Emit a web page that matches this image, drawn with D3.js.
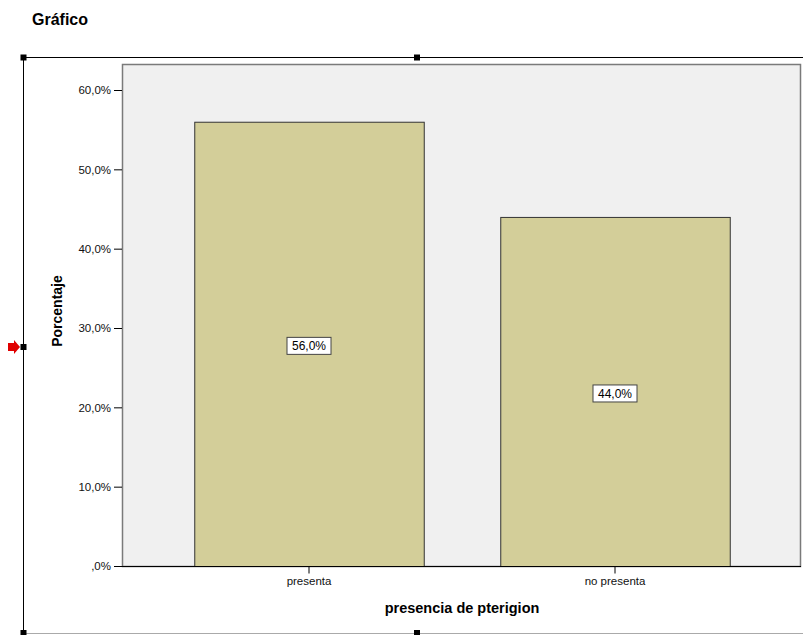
<!DOCTYPE html>
<html>
<head>
<meta charset="utf-8">
<script src="https://cdn.jsdelivr.net/npm/d3@7"></script>
<style>
  body { margin: 0; background: #fff; }
  svg { font-family: Arial, "Liberation Sans", sans-serif; }
</style>
</head>
<body>
<svg id="chart" width="803" height="635"></svg>
<script>
const categories = ['presenta', 'no presenta']
const values = [56.0, 44.0]
const yTicks = [0, 10, 20, 30, 40, 50, 60]

const svg = d3.select('#chart')

// formats like SPSS: ",0%", "10,0%"
const fmt = v => (v === 0 ? '' : Math.floor(v)) + ',' + Math.round((v % 1) * 10) + '%'

const plot = { left: 122, right: 801, top: 64, bottom: 566 }

const y = d3.scaleLinear().domain([0, 60]).range([566, 90])
const x = d3.scaleBand().domain(categories).range([156, 768])
  .paddingInner(0.25).paddingOuter(0.125)

// title
svg.append('text').attr('x', 32).attr('y', 25)
  .attr('font-size', 16).attr('font-weight', 'bold').text('Gráfico')

// outer frame lines
svg.append('line').attr('x1', 23).attr('x2', 803).attr('y1', 57.5).attr('y2', 57.5)
  .attr('stroke', '#000')
svg.append('line').attr('x1', 23.5).attr('x2', 23.5).attr('y1', 57).attr('y2', 633)
  .attr('stroke', '#000')
svg.append('line').attr('x1', 23).attr('x2', 803).attr('y1', 633.5).attr('y2', 633.5)
  .attr('stroke', '#aaa')
const handles = [[23.5, 57.5], [417, 57.5], [23.5, 347], [23.5, 633], [417, 633]]
svg.selectAll('rect.handle').data(handles).enter().append('rect')
  .attr('class', 'handle')
  .attr('x', d => d[0] - 3).attr('y', d => d[1] - 3)
  .attr('width', 6).attr('height', 6).attr('fill', '#000')
svg.append('path').attr('d', 'M8,343 L14,343 L14,340 L20,347 L14,354 L14,351 L8,351 Z')
  .attr('fill', '#e00000')

// plot background
svg.append('rect')
  .attr('x', plot.left + 0.5).attr('y', plot.top + 0.5)
  .attr('width', plot.right - plot.left - 1).attr('height', plot.bottom - plot.top)
  .attr('fill', '#f0f0f0').attr('stroke', '#7a7a7a').attr('stroke-width', 1.5)

// bars
svg.selectAll('rect.bar').data(values).enter().append('rect')
  .attr('class', 'bar')
  .attr('x', (d, i) => x(categories[i]) + 0.5)
  .attr('y', d => y(d) + 0.5)
  .attr('width', x.bandwidth())
  .attr('height', d => y(0) - y(d))
  .attr('fill', '#d3ce99').attr('stroke', '#333').attr('stroke-width', 1)

// y axis
const yAxis = d3.axisLeft(y).tickValues(yTicks).tickFormat(fmt).tickSize(8).tickPadding(3)
const gy = svg.append('g').attr('transform', `translate(${plot.left},0)`).call(yAxis)
gy.select('.domain').remove()
gy.selectAll('line').attr('stroke', '#000')
gy.selectAll('text').attr('font-size', 11.5).attr('fill', '#111')
  .attr('font-family', 'Arial, "Liberation Sans", sans-serif')

// x axis
const xAxis = d3.axisBottom(x).tickSize(7).tickPadding(3)
const gx = svg.append('g').attr('transform', `translate(0,${plot.bottom + 0.5})`).call(xAxis)
gx.select('.domain').attr('stroke', '#000').attr('d', `M${plot.left},0H${plot.right}`)
gx.selectAll('line').attr('stroke', '#000')
gx.selectAll('text').attr('font-size', 11.5).attr('fill', '#111')
  .attr('font-family', 'Arial, "Liberation Sans", sans-serif')

// value labels
const labels = svg.selectAll('g.lbl').data(values).enter().append('g')
  .attr('class', 'lbl')
  .attr('transform', (d, i) => `translate(${x(categories[i]) + x.bandwidth() / 2},${(y(d) + y(0)) / 2 + 2})`)
labels.append('rect').attr('x', -22).attr('y', -8.5).attr('width', 44).attr('height', 17)
  .attr('fill', '#fff').attr('stroke', '#444').attr('stroke-width', 1)
labels.append('text').attr('text-anchor', 'middle').attr('dy', '0.35em')
  .attr('font-size', 12).attr('fill', '#000')
  .text(d => d.toFixed(1).replace('.', ',') + '%')

// axis titles
svg.append('text')
  .attr('transform', `translate(62,${(plot.top + plot.bottom) / 2 - 4}) rotate(-90)`)
  .attr('text-anchor', 'middle').attr('font-size', 14).attr('font-weight', 'bold')
  .text('Porcentaje')
svg.append('text').attr('x', 462).attr('y', 613)
  .attr('text-anchor', 'middle').attr('font-size', 14.5).attr('font-weight', 'bold')
  .text('presencia de pterigion')
</script>
</body>
</html>
